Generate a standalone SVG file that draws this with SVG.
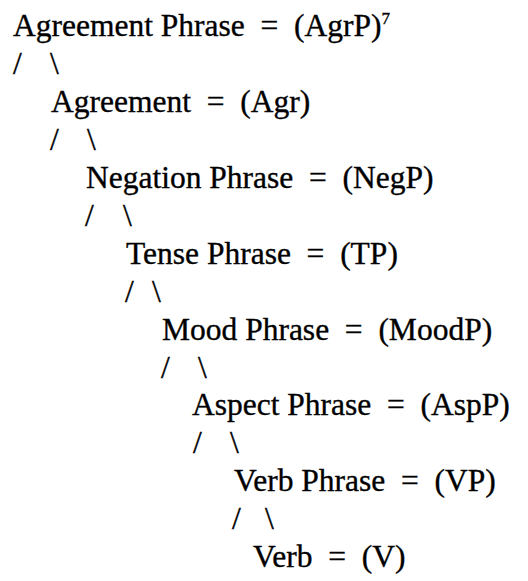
<svg xmlns="http://www.w3.org/2000/svg" width="528" height="581" viewBox="0 0 528 581">
<style>
text{font-family:"Liberation Serif","Times New Roman",serif;font-size:31.5px;fill:#000;stroke:#000;stroke-width:0.35;white-space:pre}
.sup{font-size:17px}
</style>
<rect width="528" height="581" fill="#fff"/>
<g id="connectors">
<text x="13" y="74">/</text><text x="50" y="74">\</text>
<text x="50" y="150">/</text><text x="87" y="150">\</text>
<text x="85" y="226">/</text><text x="123" y="226">\</text>
<text x="125" y="302">/</text><text x="152" y="302">\</text>
<text x="161" y="378">/</text><text x="198" y="378">\</text>
<text x="193" y="453">/</text><text x="230" y="453">\</text>
<text x="232" y="529">/</text><text x="265" y="529">\</text>
</g>
<g id="agrp"><text x="13" y="36" xml:space="preserve">Agreement Phrase  =  (AgrP)<tspan class="sup" dy="-12">7</tspan></text></g>
<g id="agr"><text x="51" y="112" xml:space="preserve">Agreement  =  (Agr)</text></g>
<g id="negp"><text x="86" y="188" xml:space="preserve">Negation Phrase  =  (NegP)</text></g>
<g id="tp"><text x="126" y="264" xml:space="preserve">Tense Phrase  =  (TP)</text></g>
<g id="moodp"><text x="162" y="340" xml:space="preserve">Mood Phrase  =  (MoodP)</text></g>
<g id="aspp"><text x="192" y="415" xml:space="preserve">Aspect Phrase  =  (AspP)</text></g>
<g id="vp"><text x="234" y="491" xml:space="preserve">Verb Phrase  =  (VP)</text></g>
<g id="v"><text x="253" y="567" xml:space="preserve">Verb  =  (V)</text></g>
</svg>
